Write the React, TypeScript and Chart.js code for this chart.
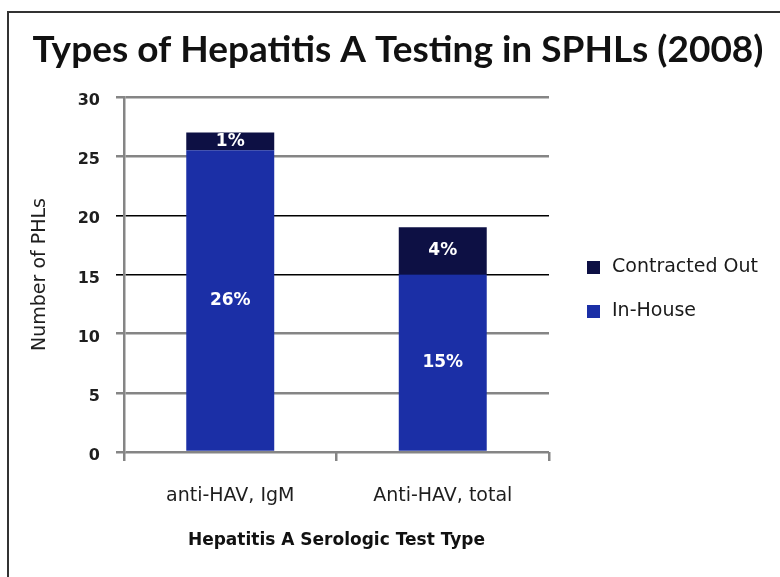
import React, { useEffect, useRef } from 'react';
import { Chart, registerables } from 'chart.js';

Chart.register(...registerables);

const chartTitle = 'Types of Hepatitis A Testing in SPHLs (2008)';
const categories = ['anti-HAV, IgM', 'Anti-HAV, total'];
const inHouseValues = [25.5, 15];
const contractedValues = [1.5, 4];
const inHouseLabels = ['26%', '15%'];
const contractedLabels = ['1%', '4%'];
const seriesNames = ['In-House', 'Contracted Out'];
const yTitle = 'Number of PHLs';
const xTitle = 'Hepatitis A Serologic Test Type';
const darkGridValues = [15, 20];

const BLUE = '#1b2fa6';
const NAVY = '#0d1044';
const GRAY = '#858585';
const SANS = '"DejaVu Sans", sans-serif';
const TITLE_FONT = 'Lato, "Open Sans", sans-serif';

const barLabelPlugin = {
  id: 'barLabels',
  afterDatasetsDraw(chart: any) {
    const ctx = chart.ctx;
    const labelSets = [inHouseLabels, contractedLabels];
    ctx.save();
    ctx.fillStyle = '#ffffff';
    ctx.font = `bold 17px ${SANS}`;
    ctx.textAlign = 'center';
    ctx.textBaseline = 'middle';
    chart.data.datasets.forEach((_ds: any, di: number) => {
      const meta = chart.getDatasetMeta(di);
      meta.data.forEach((el: any, i: number) => {
        const { x, y, base } = el.getProps(['x', 'y', 'base'], true);
        ctx.fillText(labelSets[di][i], x, (y + base) / 2);
      });
    });
    ctx.restore();
  },
};

const legendPlugin = {
  id: 'customLegend',
  afterDraw(chart: any) {
    const ctx = chart.ctx;
    const area = chart.chartArea;
    const items = [
      { text: seriesNames[1], color: NAVY },
      { text: seriesNames[0], color: BLUE },
    ];
    const x0 = area.right + 38;
    const yStart = area.top + 170;
    ctx.save();
    ctx.font = `19px ${SANS}`;
    ctx.textBaseline = 'middle';
    ctx.textAlign = 'left';
    items.forEach((it, i) => {
      const cy = yStart + i * 44;
      ctx.fillStyle = it.color;
      ctx.fillRect(x0, cy - 6, 13, 13);
      ctx.fillStyle = '#1a1a1a';
      ctx.fillText(it.text, x0 + 25, cy);
    });
    ctx.restore();
  },
};

export default function App() {
  const canvasRef = useRef<HTMLCanvasElement | null>(null);

  useEffect(() => {
    if (!canvasRef.current) return;
    const chart = new Chart(canvasRef.current, {
      type: 'bar',
      data: {
        labels: categories,
        datasets: [
          {
            label: seriesNames[0],
            data: inHouseValues,
            backgroundColor: BLUE,
            categoryPercentage: 1,
            barPercentage: 0.414,
          },
          {
            label: seriesNames[1],
            data: contractedValues,
            backgroundColor: NAVY,
            categoryPercentage: 1,
            barPercentage: 0.414,
          },
        ],
      },
      plugins: [barLabelPlugin, legendPlugin],
      options: {
        responsive: false,
        animation: false,
        devicePixelRatio: 1,
        layout: { padding: { left: 16, right: 0, top: 0, bottom: 0 } },
        plugins: {
          legend: { display: false },
          tooltip: { enabled: false },
          title: {
            display: true,
            text: chartTitle,
            color: '#111111',
            font: { family: TITLE_FONT, size: 37, weight: 'bold' },
            padding: { top: 28, bottom: 24.6 },
          },
        },
        scales: {
          x: {
            stacked: true,
            afterFit: (s: any) => {
              s.height = 125;
            },
            grid: {
              offset: true,
              drawOnChartArea: false,
              drawTicks: true,
              tickLength: 9,
              color: GRAY,
              lineWidth: 2.5,
            },
            border: { display: false },
            ticks: {
              font: { family: SANS, size: 19 },
              color: '#1e1e1e',
              padding: 24,
            },
            title: {
              display: true,
              text: xTitle,
              color: '#111111',
              font: { family: SANS, size: 17, weight: 'bold' },
              padding: { top: 0, bottom: 26 },
            },
          },
          y: {
            stacked: true,
            min: 0,
            max: 30,
            afterFit: (s: any) => {
              s.width = 108;
            },
            ticks: {
              stepSize: 5,
              font: { family: SANS, size: 16, weight: 'bold' },
              color: '#1e1e1e',
              padding: 16,
              labelOffset: 4,
            },
            grid: {
              color: (c: any) => (darkGridValues.includes(c.tick?.value) ? '#000000' : GRAY),
              lineWidth: (c: any) => (darkGridValues.includes(c.tick?.value) ? 1.6 : 2.5),
              tickLength: 8,
            },
            border: { display: true, color: GRAY, width: 2.5 },
            title: {
              display: true,
              text: yTitle,
              color: '#1e1e1e',
              font: { family: SANS, size: 19 },
              padding: { top: 13, bottom: 0 },
            },
          },
          y2: {
            position: 'right',
            display: true,
            afterFit: (s: any) => {
              s.width = 231;
            },
            grid: { display: false },
            border: { display: false },
            ticks: { display: false },
          },
        },
      } as any,
    });
    return () => chart.destroy();
  }, []);

  return (
    <div style={{ position: 'absolute', left: 0, top: 0, width: 780, height: 577, background: '#ffffff' }}>
      <div
        style={{
          position: 'absolute',
          left: 7,
          top: 11,
          width: 773,
          height: 566,
          borderTop: '2px solid #333333',
          borderLeft: '2px solid #333333',
          boxSizing: 'border-box',
        }}
      />
      <canvas
        ref={canvasRef}
        width={780}
        height={577}
        style={{ position: 'absolute', left: 0, top: 0, width: 780, height: 577, display: 'block' }}
      />
    </div>
  );
}
